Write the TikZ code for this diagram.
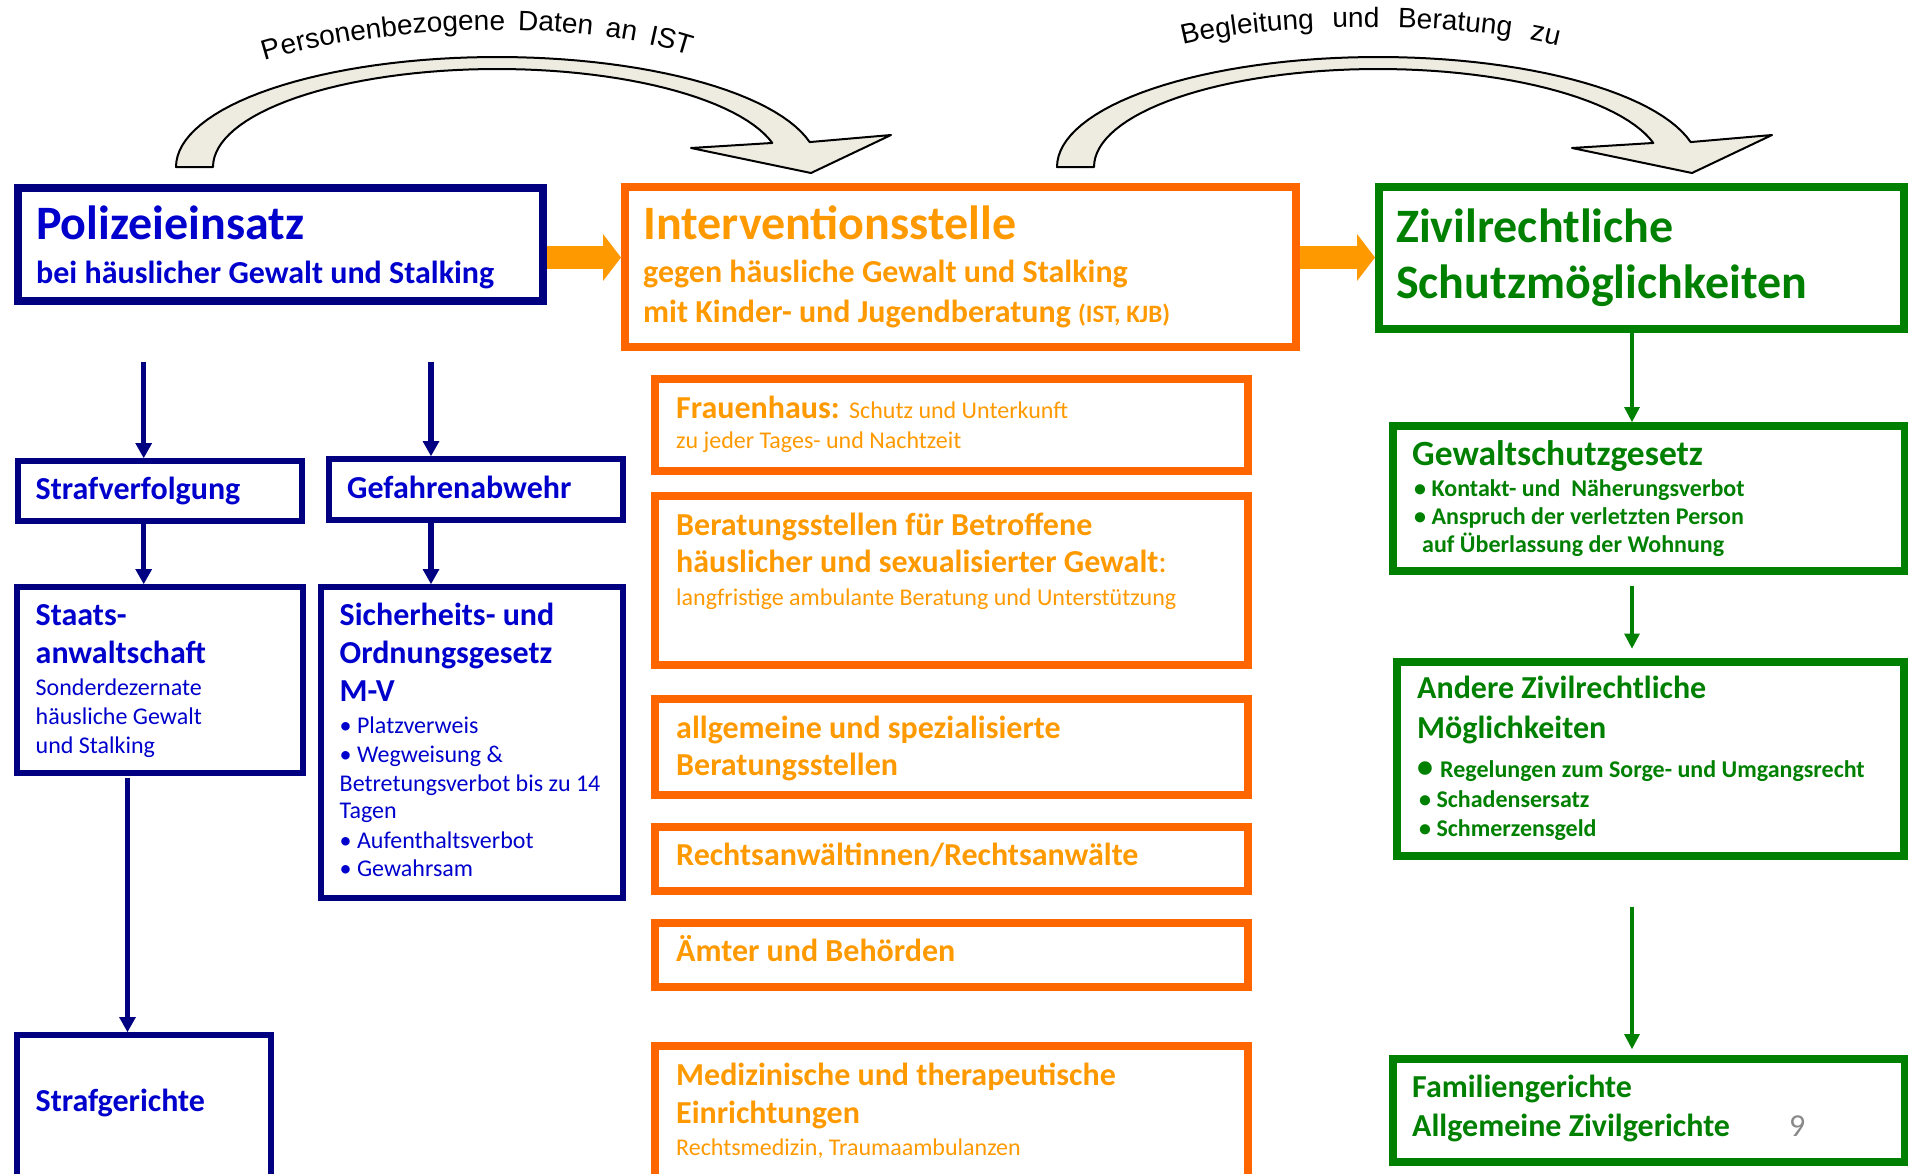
\documentclass[tikz,border=0pt]{standalone}
\usepackage{fontspec}
\setmainfont{Carlito}
\newfontfamily\arialfont{Liberation Sans}
\usepackage{xcolor}
\usepackage{tikz}
\usetikzlibrary{arrows.meta}
\usetikzlibrary{calc}
\usetikzlibrary{decorations.text}
\definecolor{polblue}{RGB}{0,0,128}
\definecolor{poltext}{RGB}{0,0,204}
\definecolor{intorange}{RGB}{255,102,0}
\definecolor{inttext}{RGB}{255,153,0}
\definecolor{zivgreen}{RGB}{0,128,0}
\definecolor{curvefill}{RGB}{238,236,225}
\definecolor{pagegray}{RGB}{137,137,137}
\tikzstyle{bluebox} =[draw=polblue, rectangle, inner sep=0pt, line width=6pt]
\tikzstyle{orangebox} =[draw=intorange, rectangle, inner sep=0pt, line width=8pt]
\tikzstyle{greenbox} =[draw=zivgreen, rectangle, inner sep=0pt, line width=8pt]
\tikzstyle{bluearrow} =[-{Triangle[width=17pt,length=15pt,line width=0pt]}, line width=5.5pt, polblue]
\tikzstyle{greenarrow} =[-{Triangle[width=16pt,length=15pt,line width=0pt]}, line width=4.5pt, zivgreen]
\tikzstyle{blockarrow} =[-{Triangle[width=47pt,length=18pt,line width=0pt]}, line width=23pt, inttext]
\tikzstyle{curvearrow} =[fill=curvefill, draw=black, line width=2pt, line join=round]
\tikzstyle{lbl} =[anchor=base west, inner sep=0pt]
\tikzstyle{bigtxt} =[lbl, font=\bfseries\fontsize{48}{57}\selectfont]
\tikzstyle{midtxt} =[lbl, font=\bfseries\fontsize{32}{38}\selectfont]
\tikzstyle{smalltxt} =[lbl, font=\fontsize{24}{29}\selectfont]
\tikzstyle{smallbold} =[lbl, font=\bfseries\fontsize{24}{29}\selectfont]

\begin{document}
\begin{tikzpicture}[x=1pt, y=-1pt]
	\useasboundingbox (0,0) rectangle (1908,1173);
	\clip (0,0) rectangle (1908,1173);
	\foreach \dx in {0,881}{
		\filldraw[curvearrow] plot[domain=180:346.9, samples=60] ({497+\dx+321*cos(\x)},{167+110*sin(\x)})
		-- (891+\dx,135) -- (811+\dx,173) -- (691+\dx,148)
		-- plot[domain=345.8:180, samples=60] ({497+\dx+284*cos(\x)},{167+98*sin(\x)}) -- cycle;
	}
	\path[decorate, decoration={text along path, text align={fit to path stretching spaces},
		text={|\arialfont\fontsize{28}{34}\selectfont|Personenbezogene Daten an IST}}]
		(265,61) .. controls (385,24) and (575,18) .. (690,55);
	\path[decorate, decoration={text along path, text align={fit to path stretching spaces},
		text={|\arialfont\fontsize{28}{34}\selectfont|Begleitung und Beratung zu}}]
		(1183,45) .. controls (1280,21) and (1460,21) .. (1558,46);

	\node (polizei)[bluebox, line width=8pt, minimum width=525pt, minimum height=112.5pt] at (280,244.25) {};
	\node (strafv)[bluebox, minimum width=284.5pt, minimum height=60pt] at (159.75,491) {};
	\node (gefahr)[bluebox, minimum width=294.4pt, minimum height=61pt] at (475.8,489.5) {};
	\node (staats)[bluebox, minimum width=285.7pt, minimum height=185.5pt] at (160.2,679.75) {};
	\node (sicher)[bluebox, minimum width=302.5pt, minimum height=310.5pt] at (471.75,742.25) {};
	\node (strafg)[bluebox, minimum width=253.7pt, minimum height=155pt] at (144.15,1112.5) {};

	\node (interv)[orangebox, minimum width=670.5pt, minimum height=160pt] at (960.25,267) {};
	\node (frauen)[orangebox, minimum width=593pt, minimum height=92pt] at (951.5,425) {};
	\node (berat)[orangebox, minimum width=593pt, minimum height=169pt] at (951.5,580.5) {};
	\node (allgem)[orangebox, minimum width=593pt, minimum height=95.5pt] at (951.5,746.75) {};
	\node (anwalt)[orangebox, minimum width=593pt, minimum height=64pt] at (951.5,859) {};
	\node (aemter)[orangebox, minimum width=593pt, minimum height=63.5pt] at (951.5,954.75) {};
	\node (medizin)[orangebox, minimum width=593pt, minimum height=144pt] at (951.5,1118) {};

	\node (zivil)[greenbox, minimum width=525pt, minimum height=141.5pt] at (1641.5,258) {};
	\node (gewalt)[greenbox, minimum width=512pt, minimum height=144.5pt] at (1648.5,498.25) {};
	\node (andere)[greenbox, minimum width=507pt, minimum height=194.5pt] at (1650.5,758.75) {};
	\node (familie)[greenbox, minimum width=512pt, minimum height=103pt] at (1648.5,1110.5) {};

	\coordinate (oa) at (0,257.5);
	\draw[blockarrow] (polizei.east |- oa) -- (interv.west |- oa);
	\draw[blockarrow] (interv.east |- oa) -- (zivil.west |- oa);

	\coordinate (bt1) at (143.7,362);
	\coordinate (bt2) at (431,362);
	\coordinate (bt3) at (127.5,778);
	\draw[bluearrow] (bt1) -- (bt1 |- strafv.north);
	\draw[bluearrow] (bt2) -- (bt2 |- gefahr.north);
	\draw[bluearrow] (strafv.south -| bt1) -- (bt1 |- staats.north);
	\draw[bluearrow] (gefahr.south -| bt2) -- (bt2 |- sicher.north);
	\draw[bluearrow] (bt3) -- (bt3 |- strafg.north);

	\coordinate (gt1) at (1632,586);
	\coordinate (gt2) at (1632,906.5);
	\draw[greenarrow] (zivil.south -| gt1) -- (gt1 |- gewalt.north);
	\draw[greenarrow, shorten >=9pt] (gt1) -- (gt1 |- andere.north);
	\draw[greenarrow, shorten >=6pt] (gt2) -- (gt2 |- familie.north);

	\node (poltitle)[bigtxt, text=poltext] at (36,239) {Polizeieinsatz};
	\node (polsub)[midtxt, text=poltext] at (36,283) {bei häuslicher Gewalt und Stalking};
	\node (strafvtxt)[midtxt, text=poltext] at (35.5,499.5) {Strafverfolgung};
	\node (gefahrtxt)[midtxt, text=poltext] at (347,498) {Gefahrenabwehr};
	\node (staats1)[midtxt, text=poltext] at (35.5,625.5) {Staats-};
	\node (staats2)[midtxt, text=poltext] at (35.5,663) {anwaltschaft};
	\node (staats3)[smalltxt, text=poltext] at (35.5,695) {Sonderdezernate};
	\node (staats4)[smalltxt, text=poltext] at (35.5,724) {häusliche Gewalt};
	\node (staats5)[smalltxt, text=poltext] at (35.5,753) {und Stalking};
	\node (sicher1)[midtxt, text=poltext] at (339.5,625.5) {Sicherheits- und};
	\node (sicher2)[midtxt, text=poltext] at (339.5,663) {Ordnungsgesetz};
	\node (sicher3)[midtxt, text=poltext] at (339.5,701.5) {M-V};
	\node (sicher4)[smalltxt, text=poltext] at (339.5,733) {• Platzverweis};
	\node (sicher5)[smalltxt, text=poltext] at (339.5,762) {• Wegweisung \&};
	\node (sicher6)[smalltxt, text=poltext] at (339.5,791) {Betretungsverbot bis zu 14};
	\node (sicher7)[smalltxt, text=poltext] at (339.5,818.5) {Tagen};
	\node (sicher8)[smalltxt, text=poltext] at (339.5,848.5) {• Aufenthaltsverbot};
	\node (sicher9)[smalltxt, text=poltext] at (339.5,876) {• Gewahrsam};
	\node (strafgtxt)[midtxt, text=poltext] at (35.5,1111) {Strafgerichte};

	\node (interv1)[bigtxt, text=inttext] at (643,239) {Interventionsstelle};
	\node (interv2)[midtxt, text=inttext] at (643,282.5) {gegen häusliche Gewalt und Stalking};
	\node (interv3)[midtxt, text=inttext] at (643,322) {mit Kinder- und Jugendberatung {\fontsize{25}{30}\selectfont (IST, KJB)}};
	\node (frauen1)[midtxt, text=inttext] at (676,418) {Frauenhaus: {\mdseries\fontsize{24}{29}\selectfont Schutz und Unterkunft}};
	\node (frauen2)[smalltxt, text=inttext] at (676,448) {zu jeder Tages- und Nachtzeit};
	\node (berat1)[midtxt, text=inttext] at (676,535) {Beratungsstellen für Betroffene};
	\node (berat2)[midtxt, text=inttext] at (676,572.5) {häuslicher und sexualisierter Gewalt{\mdseries :}};
	\node (berat3)[smalltxt, text=inttext] at (676,605) {langfristige ambulante Beratung und Unterstützung};
	\node (allgem1)[midtxt, text=inttext] at (676,738.5) {allgemeine und spezialisierte};
	\node (allgem2)[midtxt, text=inttext] at (676,775) {Beratungsstellen};
	\node (anwalt1)[midtxt, text=inttext] at (676,865) {Rechtsanwältinnen/Rechtsanwälte};
	\node (aemter1)[midtxt, text=inttext] at (676,961.5) {Ämter und Behörden};
	\node (medizin1)[midtxt, text=inttext] at (676,1085) {Medizinische und therapeutische};
	\node (medizin2)[midtxt, text=inttext] at (676,1123.5) {Einrichtungen};
	\node (medizin3)[smalltxt, text=inttext] at (676,1155) {Rechtsmedizin, Traumaambulanzen};

	\node (zivil1)[bigtxt, text=zivgreen] at (1396,242) {Zivilrechtliche};
	\node (zivil2)[bigtxt, text=zivgreen] at (1396,298) {Schutzmöglichkeiten};
	\node (gewalt1)[lbl, font=\bfseries\fontsize{35.5}{42}\selectfont, text=zivgreen] at (1412,465) {Gewaltschutzgesetz};
	\node (gewalt2)[smallbold, text=zivgreen] at (1414,496) {• Kontakt- und\ \ Näherungsverbot};
	\node (gewalt3)[smallbold, text=zivgreen] at (1414,524) {• Anspruch der verletzten Person};
	\node (gewalt4)[smallbold, text=zivgreen] at (1422,552) {auf Überlassung der Wohnung};
	\node (andere1)[midtxt, text=zivgreen] at (1417,698) {Andere Zivilrechtliche};
	\node (andere2)[midtxt, text=zivgreen] at (1417,738) {Möglichkeiten};
	\node (andere3b)[midtxt, text=zivgreen] at (1417,777) {•};
	\node (andere3)[smallbold, text=zivgreen] at (1440,777) {Regelungen zum Sorge- und Umgangsrecht};
	\node (andere4)[smallbold, text=zivgreen] at (1419,807) {• Schadensersatz};
	\node (andere5)[smallbold, text=zivgreen] at (1419,836) {• Schmerzensgeld};
	\node (familie1)[midtxt, text=zivgreen] at (1412,1097) {Familiengerichte};
	\node (familie2)[midtxt, text=zivgreen] at (1412,1136) {Allgemeine Zivilgerichte};
	\node (pagenum)[lbl, font=\fontsize{32}{38}\selectfont, text=pagegray] at (1789,1136) {9};
\end{tikzpicture}
\end{document}
